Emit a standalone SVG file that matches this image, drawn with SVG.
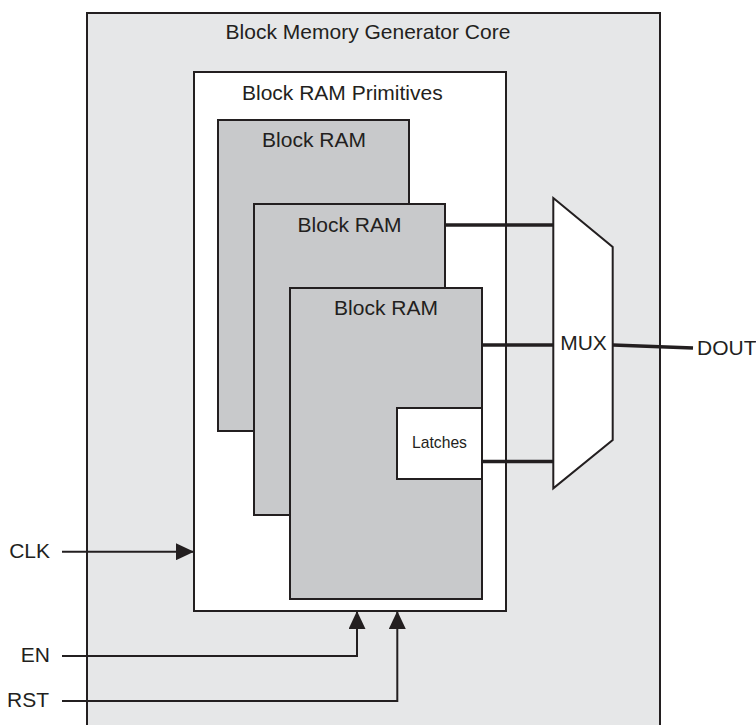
<svg xmlns="http://www.w3.org/2000/svg" width="756" height="725" viewBox="0 0 756 725">
<defs>
<style>
text{font-family:"Liberation Sans",Arial,sans-serif;fill:#231f20}
.lbl{font-size:21px}
.sm{font-size:15.7px}
.box{stroke:#231f20;stroke-width:2}
.ram{fill:#c8c9cb}
.wire{fill:none;stroke:#231f20;stroke-width:2}
.bus{fill:none;stroke:#231f20;stroke-width:3.5}
</style>
<marker id="ah" markerWidth="18" markerHeight="17" refX="18" refY="8.5" orient="auto" markerUnits="userSpaceOnUse">
<path d="M0,0 L18,8.5 L0,17 Z" fill="#231f20"/>
</marker>
</defs>
<rect width="756" height="725" fill="#ffffff"/>
<g id="core">
<path d="M87,726 V13 H660 V726" fill="#e6e7e8" class="box"/>
<text class="lbl" x="368" y="39" text-anchor="middle">Block Memory Generator Core</text>
</g>
<g id="primitives">
<rect x="194" y="72" width="312" height="539" fill="#ffffff" class="box"/>
<text class="lbl" x="242" y="100">Block RAM Primitives</text>
</g>
<g id="ram1">
<rect x="218" y="120" width="191" height="311" class="box ram"/>
<text class="lbl" x="314" y="147" text-anchor="middle">Block RAM</text>
</g>
<g id="ram2">
<rect x="254" y="204" width="191" height="311" class="box ram"/>
<text class="lbl" x="349.5" y="231.5" text-anchor="middle">Block RAM</text>
</g>
<g id="ram3">
<rect x="290" y="288" width="192" height="311" class="box ram"/>
<text class="lbl" x="386" y="315" text-anchor="middle">Block RAM</text>
</g>
<g id="latches">
<rect x="397" y="408" width="85" height="71" fill="#ffffff" class="box"/>
<text class="sm" x="439.5" y="447.5" text-anchor="middle">Latches</text>
</g>
<g id="connectors">
<path class="bus" d="M445,225 H553"/>
<path class="bus" d="M482,345 H553"/>
<path class="bus" d="M482,461.5 H553"/>
<path class="bus" d="M613,345 L693,348"/>
<path class="wire" d="M62,551.7 H194" marker-end="url(#ah)"/>
<path class="wire" d="M62,656 H357 V611" marker-end="url(#ah)"/>
<path class="wire" d="M62,701 H397.3 V611" marker-end="url(#ah)"/>
</g>
<g id="mux">
<path d="M553.3,198 L612.7,247 V440 L553.3,488.3 Z" fill="#ffffff" class="box"/>
<text class="lbl" x="583.5" y="350" text-anchor="middle">MUX</text>
</g>
<g id="ports">
<text class="lbl" x="50" y="558" text-anchor="end">CLK</text>
<text class="lbl" x="50" y="662" text-anchor="end">EN</text>
<text class="lbl" x="49" y="707" text-anchor="end">RST</text>
<text class="lbl" x="697" y="355">DOUT</text>
</g>
</svg>
